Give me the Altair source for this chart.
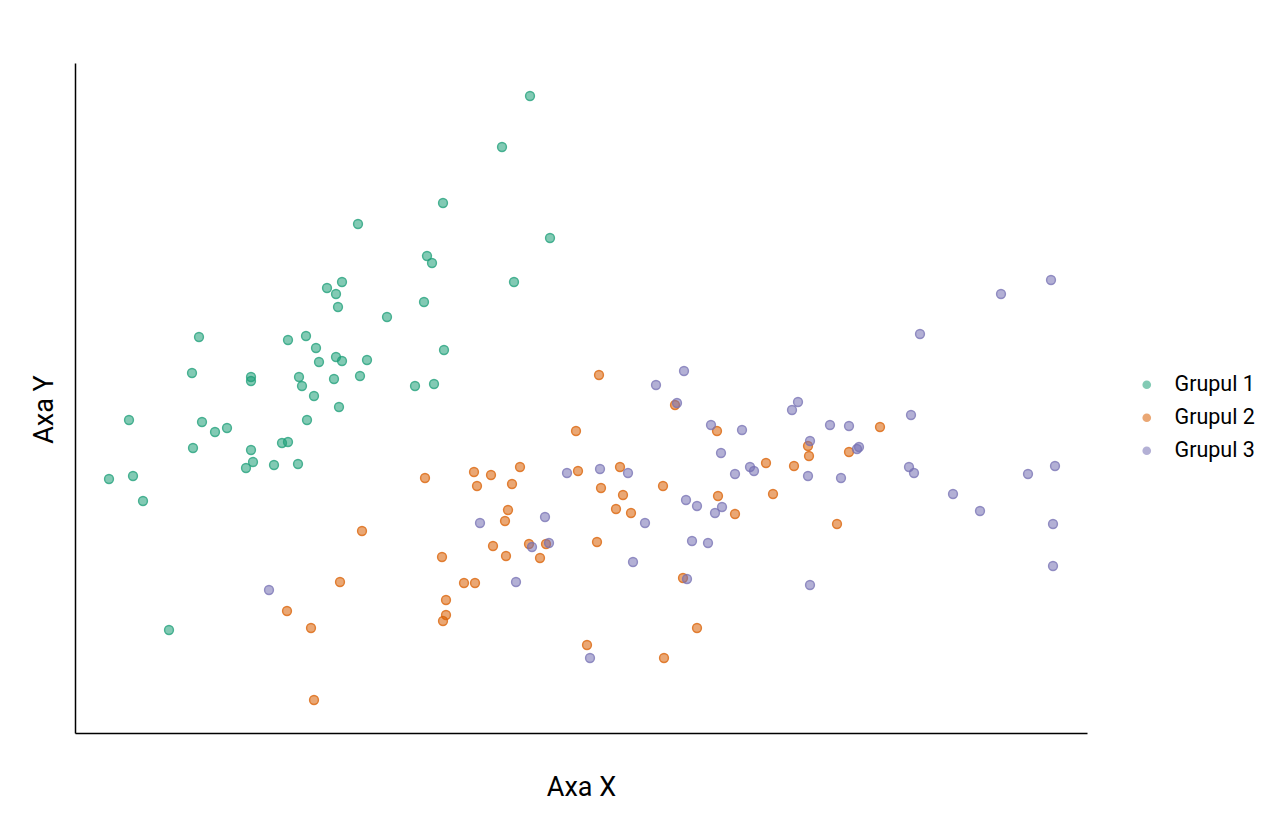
import altair as alt
import pandas as pd

groups = ["Grupul 1", "Grupul 2", "Grupul 3"]
colors = ["#1b9e77", "#d95f02", "#7570b3"]

g1_x = [45.5, 42.7, 36.8, 28.3, 47.5, 35.2, 35.7, 43.9, 26.7, 25.2, 26.1, 26.3, 31.2, 34.9,
        12.4, 21.3, 23.1, 24.1, 36.9, 26.1, 26.7, 24.4, 29.2, 11.7, 17.6, 17.6, 22.4, 22.7,
        25.9, 28.5, 34.0, 35.9, 23.9, 26.4, 5.4, 12.7, 14.0, 15.2, 23.2, 11.8, 17.6, 20.7,
        21.3, 3.4, 5.8, 6.8, 17.1, 17.8, 19.9, 22.3, 9.4]
g1_y = [63.7, 58.6, 53.0, 50.9, 49.5, 47.7, 47.0, 45.1, 45.1, 44.5, 43.9, 42.6, 41.6, 43.1,
        39.6, 39.3, 39.7, 38.5, 38.3, 37.6, 37.2, 37.1, 37.3, 36.0, 35.6, 35.2, 35.6, 34.7,
        35.4, 35.7, 34.7, 34.9, 33.7, 32.6, 31.3, 31.1, 30.1, 30.5, 31.3, 28.5, 28.3, 29.0,
        29.1, 25.4, 25.7, 23.2, 26.5, 27.1, 26.8, 26.9, 10.3]

g2_x = [52.4, 50.1, 60.0, 64.2, 35.0, 39.9, 41.6, 44.5, 40.2, 43.7, 50.3, 54.5, 52.6, 54.8,
        58.8, 54.1, 55.6, 64.3, 43.3, 43.0, 41.8, 45.4, 47.1, 43.1, 46.5, 52.2, 36.7, 38.9,
        40.0, 37.1, 37.1, 36.8, 60.8, 62.2, 51.2, 58.9, 28.7, 26.5, 21.2, 23.6, 23.9, 69.1,
        71.9, 73.3, 73.4, 77.4, 80.5, 69.8, 66.0, 76.2]
g2_y = [35.8, 30.2, 32.8, 30.2, 25.5, 26.1, 25.8, 26.6, 24.7, 24.9, 26.2, 26.6, 24.5, 23.8,
        24.7, 22.4, 22.0, 23.7, 22.3, 21.2, 18.7, 18.9, 18.9, 17.7, 17.5, 19.1, 17.6, 15.0,
        15.0, 13.3, 11.8, 11.2, 15.5, 10.5, 8.8, 7.5, 20.2, 15.1, 12.2, 10.5, 3.3, 27.0,
        26.7, 28.7, 27.7, 28.1, 30.6, 23.9, 21.9, 20.9]

g3_x = [19.4, 58.1, 60.9, 60.2, 63.6, 66.7, 64.6, 49.2, 52.5, 55.3, 57.0, 61.1, 62.2, 64.0,
        64.7, 40.5, 47.0, 45.7, 47.4, 55.8, 44.1, 61.2, 61.7, 63.3, 51.5, 72.3, 71.7, 75.5,
        77.4, 83.6, 73.5, 78.2, 78.4, 67.5, 67.9, 66.0, 73.3, 76.6, 83.4, 83.9, 73.5, 97.6,
        92.6, 84.5, 87.8, 90.5, 95.3, 98.0, 97.8, 97.8]
g3_y = [14.3, 34.8, 36.2, 33.0, 30.8, 30.3, 28.0, 26.0, 26.4, 26.0, 21.0, 23.3, 22.7, 22.0,
        22.6, 21.0, 21.6, 18.6, 19.0, 17.1, 15.1, 15.4, 19.2, 19.0, 7.5, 33.1, 32.3, 30.8,
        30.7, 31.8, 29.2, 28.4, 28.6, 26.6, 26.2, 25.9, 25.7, 25.5, 26.6, 26.0, 14.8, 45.3,
        43.9, 39.9, 23.9, 22.2, 25.9, 26.7, 20.9, 16.7]

rows = []
for name, xs, ys in zip(groups, [g1_x, g2_x, g3_x], [g1_y, g2_y, g3_y]):
    for a, b in zip(xs, ys):
        rows.append({"x": a, "y": b, "grup": name})
df = pd.DataFrame(rows)

FONT = "Roboto"

color_scale = alt.Scale(domain=groups, range=colors)

chart = alt.Chart(df).mark_point(
    filled=True, size=80, fillOpacity=0.55, strokeOpacity=0.75, strokeWidth=1.4
).encode(
    x=alt.X("x:Q", scale=alt.Scale(domain=[0, 101.2], nice=False, zero=False),
            axis=alt.Axis(title="Axa X", labels=False, ticks=False, grid=False,
                          domainColor="#000000", domainWidth=1.5,
                          titleFontSize=27, titleFont=FONT, titleFontWeight="normal",
                          titleColor="#000000", titlePadding=41)),
    y=alt.Y("y:Q", scale=alt.Scale(domain=[0, 67], nice=False, zero=False),
            axis=alt.Axis(title="Axa Y", labels=False, ticks=False, grid=False,
                          domainColor="#000000", domainWidth=1.5,
                          titleFontSize=27, titleFont=FONT, titleFontWeight="normal",
                          titleColor="#000000", titleX=-23, titleY=346,
                          titleBaseline="alphabetic", titleAlign="center", titleAngle=270)),
    color=alt.Color("grup:N", scale=color_scale,
                    legend=alt.Legend(title=None, orient="none", legendX=1061, legendY=311,
                                      labelFontSize=21.5, labelFont=FONT, labelColor="#000000",
                                      symbolType="circle", symbolSize=75, symbolOpacity=0.55,
                                      symbolStrokeWidth=0, labelOffset=17, rowPadding=10,
                                      padding=0)),
    stroke=alt.Stroke("grup:N", scale=color_scale, legend=None),
).properties(
    width=1012, height=670,
    autosize=alt.AutoSizeParams(type="none"),
    padding={"left": 67, "top": 55, "right": 180, "bottom": 85},
    background="white",
).configure_view(stroke=None)

chart.save("out.html", embed_options={"renderer": "svg", "actions": False})
